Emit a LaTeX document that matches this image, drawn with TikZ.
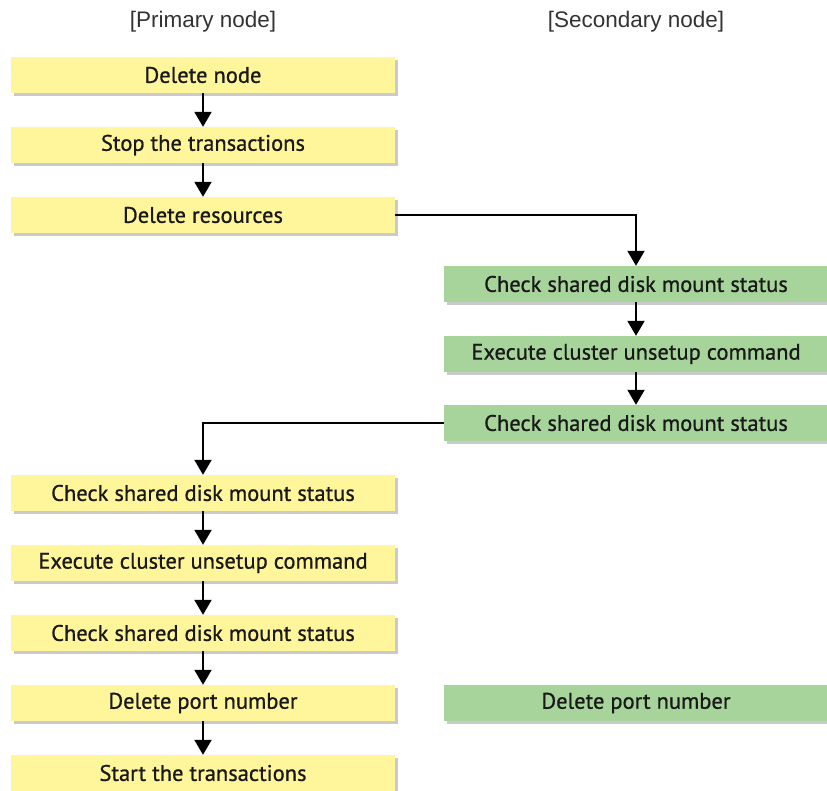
\documentclass[tikz,border=0pt]{standalone}
\usepackage{fontspec}
\setmainfont{PT Sans}
\newfontfamily\boxfont[FakeBold=0.8]{PT Sans}
\newfontfamily\hdrfont{Liberation Sans}
\usetikzlibrary{arrows.meta,shadows}
\definecolor{ybox}{HTML}{FFF59A}
\definecolor{gbox}{HTML}{A6D49A}
\definecolor{hdr}{HTML}{333333}
\tikzset{
  x=1pt,y=-1pt,
  boxbase/.style={minimum width=384pt,minimum height=36pt,inner sep=0pt,
    font=\boxfont\fontsize{22.5}{24}\selectfont,text=black!90,
    drop shadow={shadow xshift=3pt,shadow yshift=-3pt,fill=black!35,opacity=0.6}},
  ybx/.style={boxbase,fill=ybox},
  gbx/.style={boxbase,fill=gbox},
  hdrtext/.style={font=\hdrfont\fontsize{22.5}{24}\selectfont,text=hdr},
  flow/.style={line width=2pt,black,-{Triangle[width=17pt,length=15pt]}},
}
\begin{document}
\begin{tikzpicture}
\useasboundingbox (0,0) rectangle (827,790);
\node[hdrtext] (hp) at (203,22) {[Primary node]};
\node[hdrtext] (hs) at (636,22) {[Secondary node]};
\node[ybx] (p1) at (203,75) {Delete node};
\node[ybx] (p2) at (203,145) {Stop the transactions};
\node[ybx] (p3) at (203,215) {Delete resources};
\node[gbx] (s1) at (636,284) {Check shared disk mount status};
\node[gbx] (s2) at (636,354) {Execute cluster unsetup command};
\node[gbx] (s3) at (636,423) {Check shared disk mount status};
\node[ybx] (p4) at (203,493) {Check shared disk mount status};
\node[ybx] (p5) at (203,563) {Execute cluster unsetup command};
\node[ybx] (p6) at (203,633) {Check shared disk mount status};
\node[ybx] (p7) at (203,703) {Delete port number};
\node[gbx] (s4) at (636,703) {Delete port number};
\node[ybx] (p8) at (203,773) {Start the transactions};
\draw[flow] (p1) -- (p2);
\draw[flow] (p2) -- (p3);
\draw[flow] (p3.east) -| (s1.north);
\draw[flow] (s1) -- (s2);
\draw[flow] (s2) -- (s3);
\draw[flow] (s3.west) -| (p4.north);
\draw[flow] (p4) -- (p5);
\draw[flow] (p5) -- (p6);
\draw[flow] (p6) -- (p7);
\draw[flow] (p7) -- (p8);
\end{tikzpicture}
\end{document}
